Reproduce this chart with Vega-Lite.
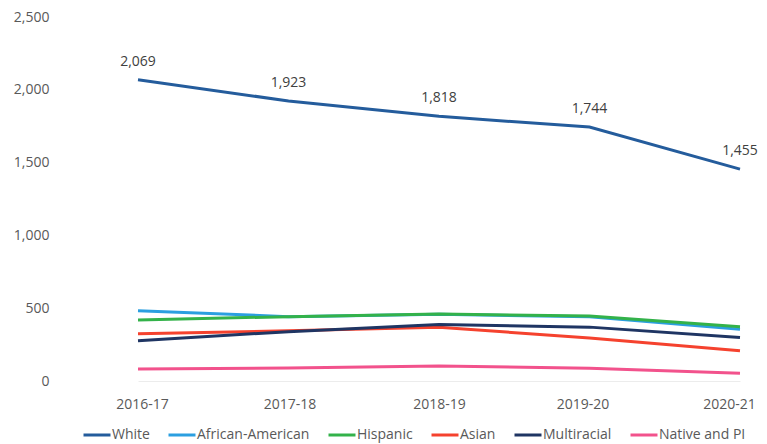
{
  "$schema": "https://vega.github.io/schema/vega-lite/v6.json",
  "autosize": {"type": "none"},
  "width": 707,
  "height": 364,
  "padding": {"left": 60, "top": 17, "right": 0, "bottom": 63},
  "background": "white",
  "config": {
    "view": {"stroke": null},
    "font": "Open Sans",
    "axis": {"labelFont": "Open Sans", "labelFontSize": 14, "labelColor": "#595959", "grid": false, "ticks": false, "title": null},
    "legend": {"labelFont": "Open Sans", "labelFontSize": 14, "labelColor": "#595959"}
  },
  "data": {
    "values": [
      {"group": "White", "year": "2016-17", "value": 2069},
      {"group": "White", "year": "2017-18", "value": 1923},
      {"group": "White", "year": "2018-19", "value": 1818},
      {"group": "White", "year": "2019-20", "value": 1744},
      {"group": "White", "year": "2020-21", "value": 1455},
      {"group": "African-American", "year": "2016-17", "value": 483},
      {"group": "African-American", "year": "2017-18", "value": 442},
      {"group": "African-American", "year": "2018-19", "value": 458},
      {"group": "African-American", "year": "2019-20", "value": 442},
      {"group": "African-American", "year": "2020-21", "value": 355},
      {"group": "Hispanic", "year": "2016-17", "value": 419},
      {"group": "Hispanic", "year": "2017-18", "value": 442},
      {"group": "Hispanic", "year": "2018-19", "value": 460},
      {"group": "Hispanic", "year": "2019-20", "value": 446},
      {"group": "Hispanic", "year": "2020-21", "value": 373},
      {"group": "Asian", "year": "2016-17", "value": 325},
      {"group": "Asian", "year": "2017-18", "value": 345},
      {"group": "Asian", "year": "2018-19", "value": 369},
      {"group": "Asian", "year": "2019-20", "value": 295},
      {"group": "Asian", "year": "2020-21", "value": 208},
      {"group": "Multiracial", "year": "2016-17", "value": 277},
      {"group": "Multiracial", "year": "2017-18", "value": 339},
      {"group": "Multiracial", "year": "2018-19", "value": 388},
      {"group": "Multiracial", "year": "2019-20", "value": 370},
      {"group": "Multiracial", "year": "2020-21", "value": 298},
      {"group": "Native and PI", "year": "2016-17", "value": 82},
      {"group": "Native and PI", "year": "2017-18", "value": 90},
      {"group": "Native and PI", "year": "2018-19", "value": 103},
      {"group": "Native and PI", "year": "2019-20", "value": 87},
      {"group": "Native and PI", "year": "2020-21", "value": 53}
    ]
  },
  "encoding": {
    "x": {
      "field": "year", "type": "ordinal", "sort": null,
      "scale": {"type": "point", "range": [78, 680], "padding": 0},
      "axis": {
        "labelAngle": 0, "labelPadding": 16, "domain": true, "domainColor": "#ececec", "domainWidth": 1,
        "labelOffset": {
          "condition": [
            {"test": "datum.value === '2016-17'", "value": 4},
            {"test": "datum.value === '2017-18'", "value": 1},
            {"test": "datum.value === '2019-20'", "value": -7},
            {"test": "datum.value === '2020-21'", "value": -11}
          ],
          "value": 0
        }
      }
    },
    "y": {
      "field": "value", "type": "quantitative",
      "scale": {"domain": [0, 2500], "nice": false},
      "axis": {"values": [0, 500, 1000, 1500, 2000, 2500], "format": ",.0f", "domain": false, "labelPadding": 11}
    }
  },
  "layer": [
    {
      "mark": {"type": "line", "strokeWidth": 3},
      "encoding": {
        "color": {
          "field": "group", "type": "nominal",
          "scale": {
            "domain": ["White", "African-American", "Hispanic", "Asian", "Multiracial", "Native and PI"],
            "range": ["#245c9c", "#2b9fe0", "#33b24a", "#f5422e", "#1f3563", "#f2528c"]
          },
          "legend": {
            "title": null, "orient": "none", "legendX": 22, "legendY": 403,
            "direction": "horizontal", "columns": 6,
            "symbolType": "stroke", "symbolSize": 729, "symbolStrokeWidth": 3,
            "columnPadding": 12, "labelOffset": 0
          }
        }
      }
    },
    {
      "transform": [{"filter": "datum.group === 'White'"}],
      "mark": {"type": "text", "dy": -18, "fontSize": 14, "color": "#404040", "font": "Open Sans"},
      "encoding": {
        "text": {"field": "value", "type": "quantitative", "format": ","}
      }
    }
  ]
}
